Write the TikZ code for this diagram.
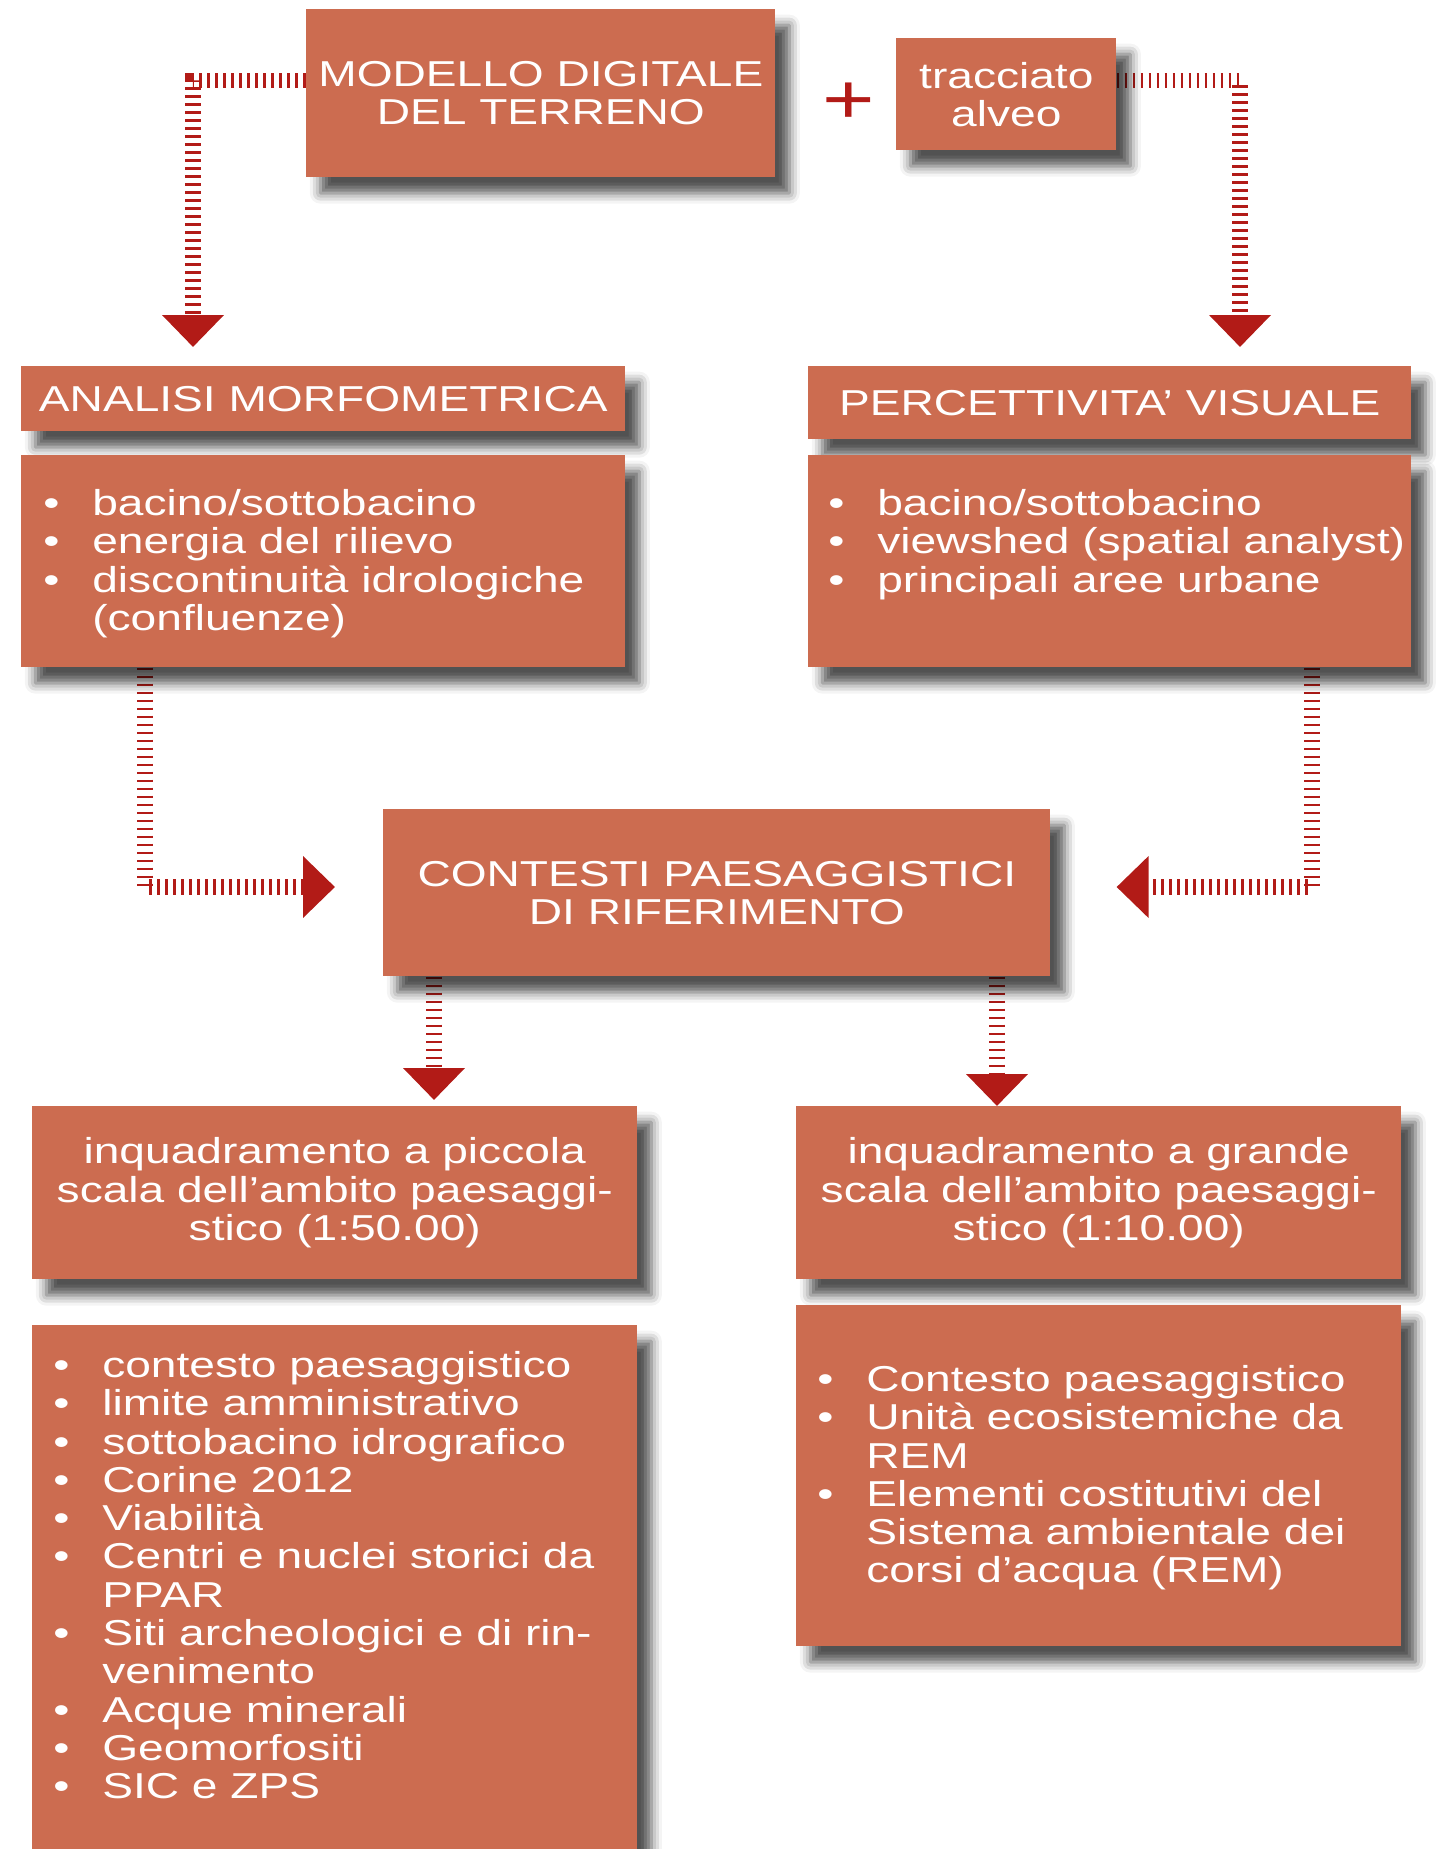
\documentclass[tikz,border=0pt]{standalone}
\usepackage{fontspec}
\setmainfont{Liberation Sans}[FakeStretch=1.28]
\usepackage{xcolor}
\usetikzlibrary{positioning, arrows.meta, shadows.blur, backgrounds}

\definecolor{terracotta}{RGB}{204,108,80}
\definecolor{arrowred}{RGB}{178,27,23}

\newcommand{\bullitem}[1]{\makebox[0.98cm][l]{\textbullet}#1}
\newcommand{\bullcont}[1]{\hspace*{0.98cm}#1}

\begin{document}
\begin{tikzpicture}[
    x=0.02cm, y=-0.02cm,
    node_box/.style={fill=terracotta, text=white, anchor=north west, inner sep=0pt,
        align=center, font=\fontsize{20.5pt}{21.8pt}\selectfont,
        blur shadow={shadow xshift=8pt, shadow yshift=-9pt, shadow blur radius=6pt, shadow opacity=68}},
    node_list/.style={text=white, anchor=north west, inner sep=0pt, align=left,
        font=\fontsize{20.5pt}{21.8pt}\selectfont},
    ladder/.style={draw=arrowred, line width=0.32cm, dash pattern=on 1.6pt off 2.95pt,
        -{Triangle[width=1.2cm, length=0.64cm]}}
]
\useasboundingbox (0,0) rectangle (1436,1849);

% sorgenti
\node[node_box, minimum width=9.38cm, minimum height=3.36cm] (mdt) at (306,9) {MODELLO DIGITALE\\DEL TERRENO};
\node[node_box, minimum width=4.4cm, minimum height=2.24cm] (alveo) at (896,38) {tracciato\\alveo};
\node[text=arrowred, font=\fontsize{40pt}{40pt}\selectfont] (plus) at (849,103) {+};

% analisi
\node[node_box, minimum width=12.08cm, minimum height=1.3cm] (anaHead) at (21,366) {ANALISI MORFOMETRICA};
\node[node_box, minimum width=12.08cm, minimum height=4.24cm] (anaList) at (21,455) {};
\node[node_list, below right=0.68cm and 0.44cm of anaList.north west] (anaItems) {%
    \bullitem{bacino/sottobacino}\\
    \bullitem{energia del rilievo}\\
    \bullitem{discontinuità idrologiche}\\
    \bullcont{(confluenze)}};

\node[node_box, minimum width=12.06cm, minimum height=1.46cm] (perHead) at (808,366) {PERCETTIVITA’ VISUALE};
\node[node_box, minimum width=12.06cm, minimum height=4.24cm] (perList) at (808,455) {};
\node[node_list, below right=0.68cm and 0.4cm of perList.north west] (perItems) {%
    \bullitem{bacino/sottobacino}\\
    \bullitem{viewshed (spatial analyst)}\\
    \bullitem{principali aree urbane}};

% contesti
\node[node_box, minimum width=13.34cm, minimum height=3.34cm] (ctx) at (383,809) {CONTESTI PAESAGGISTICI\\DI RIFERIMENTO};

% inquadramenti
\node[node_box, minimum width=12.1cm, minimum height=3.46cm] (inqL) at (32,1106) {inquadramento a piccola\\scala dell’ambito paesaggi-\\stico (1:50.00)};
\node[node_box, minimum width=12.1cm, minimum height=3.46cm] (inqR) at (796,1106) {inquadramento a grande\\scala dell’ambito paesaggi-\\stico (1:10.00)};

\node[node_box, minimum width=12.1cm, minimum height=11.1cm] (listL) at (32,1325) {};
\node[node_list, below right=0.52cm and 0.42cm of listL.north west] (listLItems) {%
    \bullitem{contesto paesaggistico}\\
    \bullitem{limite amministrativo}\\
    \bullitem{sottobacino idrografico}\\
    \bullitem{Corine 2012}\\
    \bullitem{Viabilità}\\
    \bullitem{Centri e nuclei storici da}\\
    \bullcont{PPAR}\\
    \bullitem{Siti archeologici e di rin-}\\
    \bullcont{venimento}\\
    \bullitem{Acque minerali}\\
    \bullitem{Geomorfositi}\\
    \bullitem{SIC e ZPS}};

\node[node_box, minimum width=12.1cm, minimum height=6.82cm] (listR) at (796,1305) {};
\node[node_list, below right=1.2cm and 0.42cm of listR.north west] (listRItems) {%
    \bullitem{Contesto paesaggistico}\\
    \bullitem{Unità ecosistemiche da}\\
    \bullcont{REM}\\
    \bullitem{Elementi costitutivi del}\\
    \bullcont{Sistema ambientale dei}\\
    \bullcont{corsi d’acqua (REM)}};

% frecce
\begin{scope}[on background layer]
\coordinate (tl) at (193,80.5);
\coordinate (tr) at (1240,80.5);
\coordinate (bl) at (145,887);
\coordinate (br) at (1312,887);
\coordinate (dl) at (434,0);
\coordinate (dr) at (997,0);
\draw[ladder] (tl -| mdt.west) -| ([yshift=0.38cm]tl |- anaHead.north);
\draw[ladder] (tr -| alveo.east) -| ([yshift=0.38cm]tr |- perHead.north);
\draw[ladder] (bl |- anaList.south) |- ([xshift=-0.96cm]bl -| ctx.west);
\draw[ladder] (br |- perList.south) |- ([xshift=1.32cm]br -| ctx.east);
\draw[ladder] (dl |- ctx.south) -- ([yshift=0.12cm]dl |- inqL.north);
\draw[ladder] (dr |- ctx.south) -- (dr |- inqR.north);
\end{scope}
\end{tikzpicture}
\end{document}
